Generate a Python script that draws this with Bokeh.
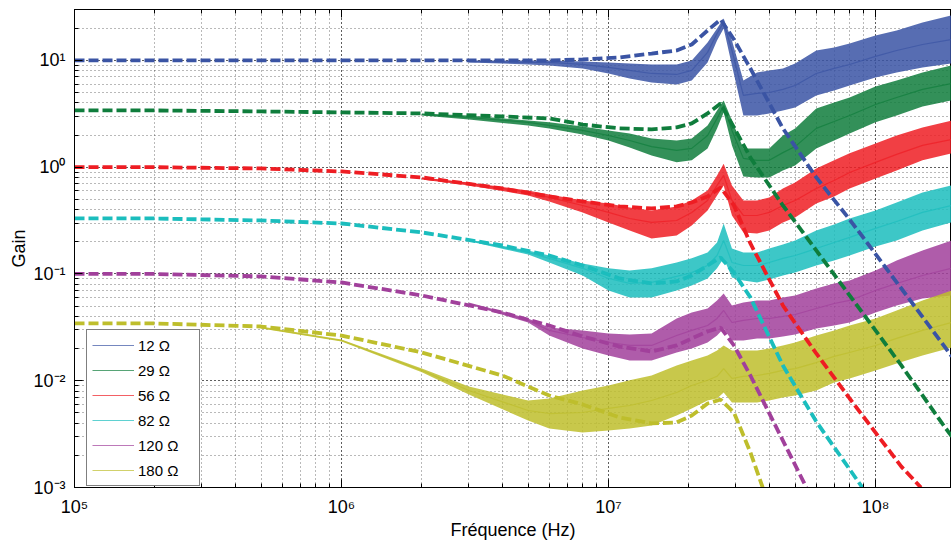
from bokeh.plotting import figure
from bokeh.models import (LogTicker, LogAxis, CustomJSTickFormatter, Legend,
                          LegendItem, Range1d)
from bokeh.embed import file_html
from bokeh.resources import INLINE

# ---------------- data ----------------
LABELS = ["12 Ω", "29 Ω", "56 Ω", "82 Ω", "120 Ω", "180 Ω"]
COLORS = ["#3a54a4", "#0f7d3c", "#ee1d23", "#1bbdbd", "#a1409b", "#bebe2c"]
X_TITLE = "Fréquence (Hz)"
Y_TITLE = "Gain"

# model curves (dashed)
F_MODEL = [1e5, 2e5, 5e5, 1e6, 2e6, 4e6, 6e6, 8e6, 1.1e7, 1.45e7, 1.8e7,
           2.05e7, 2.35e7, 2.63e7, 2.95e7, 3.4e7, 4.5e7, 6e7, 8e7, 1.25e8, 1.8e8, 1.93e8]
M_12 = [10, 10, 10, 10, 10, 10, 10, 10.2, 10.67, 11.6, 12.4, 14.1, 19.1, 24.2,
        15.7, 8.41, 2.31, 0.802, 0.324, 0.0731, 0.0214, 0.0169]
M_29 = [3.40, 3.40, 3.33, 3.26, 3.19, 2.99, 2.86, 2.51, 2.31, 2.26, 2.36, 2.57,
        3.19, 3.95, 2.36, 1.23, 0.438, 0.166, 0.0629, 0.0139, 0.00381, 0.00301]
F_M_56 = F_MODEL[:20] + [1.48e8]
M_56 = [1.0, 1.0, 0.973, 0.912, 0.802, 0.632, 0.532, 0.478, 0.429, 0.411, 0.429,
        0.468, 0.532, 0.646, 0.438, 0.193, 0.0507, 0.0180, 0.00682, 0.00157, 0.001]
F_M_82 = F_MODEL[:19] + [8.93e7]
M_82 = [0.331, 0.331, 0.317, 0.297, 0.245, 0.185, 0.149, 0.120, 0.0908, 0.0815,
        0.0851, 0.0968, 0.120, 0.143, 0.103, 0.0603, 0.0139, 0.00415, 0.00148, 0.001]
F_M_120 = F_MODEL[:17] + [5.51e7]
M_120 = [0.100, 0.100, 0.0948, 0.0832, 0.0629, 0.0436, 0.0329, 0.0260, 0.0209,
         0.0188, 0.0214, 0.0249, 0.0289, 0.0315, 0.0214, 0.0112, 0.00275, 0.001]
F_M_180 = F_MODEL[:16] + [3.78e7]
M_180 = [0.0344, 0.0344, 0.0322, 0.0265, 0.0184, 0.0112, 0.00727, 0.00600,
         0.00453, 0.00398, 0.00407, 0.00472, 0.00612, 0.00667, 0.00504, 0.00213, 0.001]

# measured curves: centre and noise envelope (high / low)
F_MEAS = [5e5, 1e6, 2e6, 3e6, 5e6, 6e6, 8e6, 1e7, 1.2e7, 1.45e7, 1.8e7, 2.05e7,
          2.35e7, 2.55e7, 2.7e7, 2.9e7, 3.2e7, 3.6e7, 4e7, 4.5e7, 5e7, 6e7, 7e7,
          8e7, 1e8, 1.2e8, 1.5e8, 1.93e8]

G_12 = [9.79, 9.58, 9.58, 9.17, 8.60, 8.06, 7.55, 7.39, 8.06, 11.9, 17.9, 22.7,
        12.4, 4.70, 4.91, 5.01, 5.35, 5.83, 7.55, 8.42, 9.17, 10.9, 12.4, 14.1, 15.7]
H_12 = [10.0, 10.0, 10.0, 9.79, 9.58, 9.37, 9.17, 9.17, 10.0, 14.7, 19.9, 24.7,
        15.4, 6.50, 7.72, 8.06, 8.42, 9.37, 12.4, 13.2, 14.4, 17.1, 19.1, 22.7, 26.4]
L_12 = [9.58, 9.17, 8.98, 8.42, 7.55, 6.78, 6.22, 5.96, 6.50, 9.58, 15.4, 19.9,
        8.98, 3.05, 3.05, 3.19, 3.40, 3.63, 4.70, 5.24, 5.83, 6.93, 7.72, 8.60, 9.37]

G_29 = [3.12, 2.92, 2.63, 2.46, 2.21, 1.98, 1.78, 1.56, 1.44, 1.50, 1.98, 2.86,
        3.79, 2.21, 1.21, 1.16, 1.16, 1.37, 1.56, 2.31, 2.68, 3.05, 3.87, 4.50, 5.35, 6.09]
H_29 = [3.19, 3.05, 2.74, 2.63, 2.41, 2.21, 2.07, 1.86, 1.78, 1.86, 2.46, 3.40,
        4.22, 2.74, 1.50, 1.50, 1.50, 1.98, 2.31, 3.55, 4.04, 4.50, 5.71, 6.50, 7.72, 8.98]
L_29 = [3.05, 2.80, 2.46, 2.31, 2.03, 1.78, 1.53, 1.29, 1.11, 1.16, 1.50, 2.31,
        3.26, 1.60, 0.819, 0.802, 0.802, 0.932, 1.04, 1.50, 1.78, 2.07, 2.63, 3.05, 3.71, 4.22]

G_56 = [0.785, 0.705, 0.580, 0.521, 0.438, 0.377, 0.331, 0.304, 0.317, 0.377, 0.488,
        0.675, 0.837, 0.488, 0.353, 0.353, 0.377, 0.438, 0.488, 0.632, 0.751, 0.893,
        1.11, 1.32, 1.60, 1.82]
H_56 = [0.802, 0.720, 0.606, 0.556, 0.488, 0.458, 0.420, 0.393, 0.429, 0.488, 0.606,
        0.837, 1.08, 0.675, 0.488, 0.488, 0.521, 0.632, 0.720, 0.973, 1.16, 1.35,
        1.67, 1.98, 2.36, 2.74]
L_56 = [0.768, 0.675, 0.544, 0.478, 0.377, 0.304, 0.256, 0.215, 0.229, 0.285, 0.393,
        0.544, 0.675, 0.353, 0.245, 0.240, 0.256, 0.304, 0.338, 0.458, 0.532, 0.632,
        0.785, 0.932, 1.16, 1.35]

G_82 = [0.206, 0.159, 0.140, 0.113, 0.0908, 0.0815, 0.0833, 0.0948, 0.103, 0.120,
        0.149, 0.206, 0.128, 0.120, 0.120, 0.128, 0.140, 0.149, 0.173, 0.197, 0.220,
        0.267, 0.310, 0.377, 0.438]
H_82 = [0.210, 0.166, 0.149, 0.125, 0.113, 0.108, 0.113, 0.128, 0.140, 0.159, 0.197,
        0.297, 0.173, 0.159, 0.159, 0.173, 0.189, 0.206, 0.256, 0.291, 0.331, 0.393,
        0.467, 0.580, 0.675]
L_82 = [0.202, 0.152, 0.128, 0.0968, 0.0701, 0.0602, 0.0602, 0.0701, 0.0780, 0.0908,
        0.113, 0.140, 0.0927, 0.0869, 0.0833, 0.0888, 0.0968, 0.103, 0.120, 0.134,
        0.149, 0.181, 0.206, 0.256, 0.304]

G_120 = [0.0529, 0.0367, 0.0296, 0.0254, 0.0228, 0.0214, 0.0214, 0.0265, 0.0296,
         0.0329, 0.0383, 0.0455, 0.0351, 0.0367, 0.0383, 0.0383, 0.0400, 0.0417,
         0.0475, 0.0529, 0.0565, 0.0701, 0.0815, 0.0968, 0.113]
H_120 = [0.0541, 0.0383, 0.0315, 0.0296, 0.0277, 0.0271, 0.0277, 0.0383, 0.0436,
         0.0475, 0.0565, 0.0657, 0.0507, 0.0541, 0.0565, 0.0565, 0.0602, 0.0629,
         0.0731, 0.0815, 0.0869, 0.108, 0.134, 0.166, 0.206]
L_120 = [0.0518, 0.0351, 0.0265, 0.0200, 0.0172, 0.0155, 0.0155, 0.0184, 0.0200,
         0.0228, 0.0265, 0.0309, 0.0238, 0.0238, 0.0249, 0.0249, 0.0260, 0.0271,
         0.0309, 0.0329, 0.0351, 0.0436, 0.0507, 0.0590, 0.0629]

G_180 = [0.0315, 0.0238, 0.0125, 0.00810, 0.00526, 0.00493, 0.00504, 0.00550,
         0.00586, 0.00653, 0.00776, 0.00903, 0.0101, 0.0110, 0.0130, 0.0105, 0.0110,
         0.0112, 0.0117, 0.0125, 0.0130, 0.0148, 0.0169, 0.0184, 0.0214, 0.0249,
         0.0296, 0.0351]
H_180 = [0.0322, 0.0243, 0.0130, 0.00883, 0.00653, 0.00682, 0.00810, 0.00903,
         0.0101, 0.0112, 0.0139, 0.0155, 0.0172, 0.0192, 0.0214, 0.0192, 0.0192,
         0.0192, 0.0200, 0.0214, 0.0228, 0.0265, 0.0296, 0.0329, 0.0383, 0.0455,
         0.0565, 0.0701]
L_180 = [0.0309, 0.0233, 0.0120, 0.00743, 0.00424, 0.00357, 0.00327, 0.00342,
         0.00357, 0.00381, 0.00473, 0.00550, 0.00653, 0.00682, 0.00776, 0.00626,
         0.00626, 0.00626, 0.00653, 0.00697, 0.00727, 0.00810, 0.00963, 0.0105,
         0.0125, 0.0145, 0.0172, 0.0205]

MEASURED = [(G_12, H_12, L_12), (G_29, H_29, L_29), (G_56, H_56, L_56),
            (G_82, H_82, L_82), (G_120, H_120, L_120), (G_180, H_180, L_180)]
MODELS = [(F_MODEL, M_12), (F_MODEL, M_29), (F_M_56, M_56),
          (F_M_82, M_82), (F_M_120, M_120), (F_M_180, M_180)]

# ---------------- figure ----------------
FONT = "Liberation Sans"
p = figure(width=951, height=543, x_axis_type="log", y_axis_type="log",
           x_range=Range1d(1e5, 1.926e8), y_range=Range1d(1e-3, 30),
           output_backend="svg", toolbar_location=None,
           min_border_left=74, min_border_right=0, min_border_top=9,
           min_border_bottom=56)
p.outline_line_color = "black"
p.outline_line_width = 1
p.background_fill_color = "white"
p.border_fill_color = "white"

bottom_axis = p.below[0]
left_axis = p.left[0]

sup_js = """
const s = {"-":"\u207b","0":"\u2070","1":"\u00b9","2":"\u00b2","3":"\u00b3",
           "4":"\u2074","5":"\u2075","6":"\u2076","7":"\u2077","8":"\u2078","9":"\u2079"};
const e = Math.round(Math.log10(tick));
return "10" + String(e).split("").map(c => s[c]).join("");
"""
for ax in (bottom_axis, left_axis):
    ax.ticker = LogTicker(num_minor_ticks=10)
    ax.formatter = CustomJSTickFormatter(code=sup_js)
    ax.major_label_text_font = FONT
    ax.major_label_text_font_size = "18px"
    ax.major_label_text_color = "black"
    ax.axis_label_text_font = FONT
    ax.axis_label_text_font_size = "18px"
    ax.axis_label_text_font_style = "normal"
    ax.axis_label_text_color = "black"
    ax.axis_line_color = "black"
    ax.major_tick_in = 8
    ax.major_tick_out = 0
    ax.minor_tick_in = 4
    ax.minor_tick_out = 0
    ax.major_tick_line_color = "black"
    ax.minor_tick_line_color = "black"
bottom_axis.axis_label = X_TITLE
left_axis.axis_label = Y_TITLE
bottom_axis.major_label_standoff = 9
bottom_axis.axis_label_standoff = 0
left_axis.major_label_standoff = 9
left_axis.axis_label_standoff = 1

# ticks (no labels) along the top edge
top_axis = LogAxis(ticker=LogTicker(num_minor_ticks=10),
                   formatter=CustomJSTickFormatter(code='return "";'),
                   major_tick_in=8, major_tick_out=0, minor_tick_in=4,
                   minor_tick_out=0, major_label_standoff=0,
                   axis_line_color="black")
p.add_layout(top_axis, "above")

for g in (p.xgrid[0], p.ygrid[0]):
    g.ticker = LogTicker(num_minor_ticks=10)
    g.grid_line_color = "black"
    g.grid_line_alpha = 0.6
    g.grid_line_dash = "1 3"
    g.minor_grid_line_color = "black"
    g.minor_grid_line_alpha = 0.55
    g.minor_grid_line_dash = "1 3"

# measured bands + lines
legend_items = []
for (c, h, l), col, lab in zip(MEASURED, COLORS, LABELS):
    f = F_MEAS[len(F_MEAS) - len(c):]
    p.varea(x=f, y1=l, y2=h, fill_color=col, fill_alpha=0.85)
    r = p.line(f, c, line_color=col, line_width=1.2, line_alpha=0.7)
    legend_items.append(LegendItem(label=lab, renderers=[r]))

# model dashed curves
for (f, g), col in zip(MODELS, COLORS):
    p.line(f, g, line_color=col, line_width=3.8, line_dash="10 4")

legend = Legend(items=legend_items, location=(12, 1))
legend.label_text_font = FONT
legend.label_text_font_size = "15px"
legend.label_text_color = "black"
legend.border_line_color = "black"
legend.border_line_width = 1
legend.background_fill_alpha = 1
legend.padding = 5
legend.margin = 0
legend.spacing = 5
legend.label_height = 20
legend.glyph_height = 20
legend.glyph_width = 42
legend.label_width = 56
legend.label_standoff = 4
p.add_layout(legend, "center")

open("out.html", "w").write(file_html(p, INLINE))
